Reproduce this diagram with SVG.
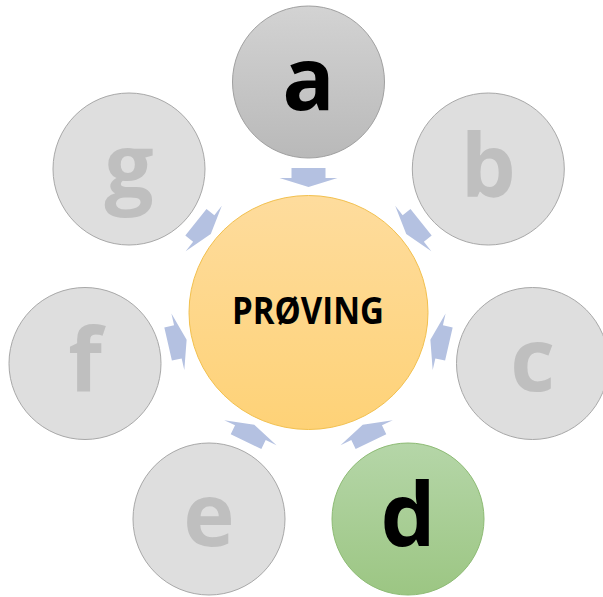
<svg xmlns="http://www.w3.org/2000/svg" width="603" height="597" viewBox="0 0 603 597">
  <defs>
    <linearGradient id="gradCenter" x1="0" y1="0" x2="0" y2="1">
      <stop offset="0" stop-color="#fedc9d"/>
      <stop offset="1" stop-color="#fed277"/>
    </linearGradient>
    <linearGradient id="gradGrey" x1="0" y1="0" x2="0" y2="1">
      <stop offset="0" stop-color="#d3d3d3"/>
      <stop offset="1" stop-color="#b9b9b9"/>
    </linearGradient>
    <linearGradient id="gradGreen" x1="0" y1="0" x2="0" y2="1">
      <stop offset="0" stop-color="#b5d6a8"/>
      <stop offset="1" stop-color="#9cc683"/>
    </linearGradient>
    <!-- inward block arrow, drawn for the top slot relative to the hub centre -->
    <polygon id="arrow" points="-17,-144 17,-144 17,-134 29,-134 0,-125 -29,-134 -17,-134"/>
  </defs>
  <style>
    .spoke { fill: #dedede; stroke: #a8a8a8; stroke-width: 1; }
    .spoke-text { fill: #bfbfbf; }
    .letter { font-family: "Open Sans", "DejaVu Sans", sans-serif; font-weight: bold; font-size: 87px; text-anchor: middle; }
    .dark { fill: #000000; }
    .conn use { fill: #b4c1e1; }
  </style>

  <!-- connectors: arrows pointing from each satellite into the hub -->
  <g id="connectors" class="conn" transform="translate(308.5,312)">
    <use href="#arrow"/>
    <use href="#arrow" transform="rotate(51.43)"/>
    <use href="#arrow" transform="rotate(102.86)"/>
    <use href="#arrow" transform="rotate(154.29)"/>
    <use href="#arrow" transform="rotate(205.71)"/>
    <use href="#arrow" transform="rotate(257.14)"/>
    <use href="#arrow" transform="rotate(308.57)"/>
  </g>

  <g id="hub">
    <ellipse cx="308.5" cy="312.5" rx="119.5" ry="117" fill="url(#gradCenter)" stroke="#f2c04e" stroke-width="1"/>
    <text x="308" y="324" font-family="'Open Sans', 'DejaVu Sans', sans-serif" font-weight="bold" font-size="37" text-anchor="middle" textLength="152" lengthAdjust="spacingAndGlyphs" fill="#000">PRØVING</text>
  </g>

  <g id="node-a">
    <circle cx="308.5" cy="82" r="76" fill="url(#gradGrey)" stroke="#a0a0a0" stroke-width="1"/>
    <text class="letter dark" x="308.5" y="110">a</text>
  </g>
  <g id="node-b">
    <circle class="spoke" cx="488.3" cy="169" r="76"/>
    <text class="letter spoke-text" x="488.3" y="197">b</text>
  </g>
  <g id="node-c">
    <circle class="spoke" cx="532.5" cy="363.5" r="76"/>
    <text class="letter spoke-text" x="532.5" y="391">c</text>
  </g>
  <g id="node-d">
    <circle cx="408" cy="519" r="76" fill="url(#gradGreen)" stroke="#8dbb74" stroke-width="1"/>
    <text class="letter dark" x="408" y="546">d</text>
  </g>
  <g id="node-e">
    <circle class="spoke" cx="209" cy="519" r="76"/>
    <text class="letter spoke-text" x="209" y="546">e</text>
  </g>
  <g id="node-f">
    <circle class="spoke" cx="85" cy="363.5" r="76"/>
    <text class="letter spoke-text" x="85" y="391">f</text>
  </g>
  <g id="node-g">
    <circle class="spoke" cx="129" cy="169" r="76"/>
    <text class="letter spoke-text" x="129" y="197">g</text>
  </g>
</svg>
